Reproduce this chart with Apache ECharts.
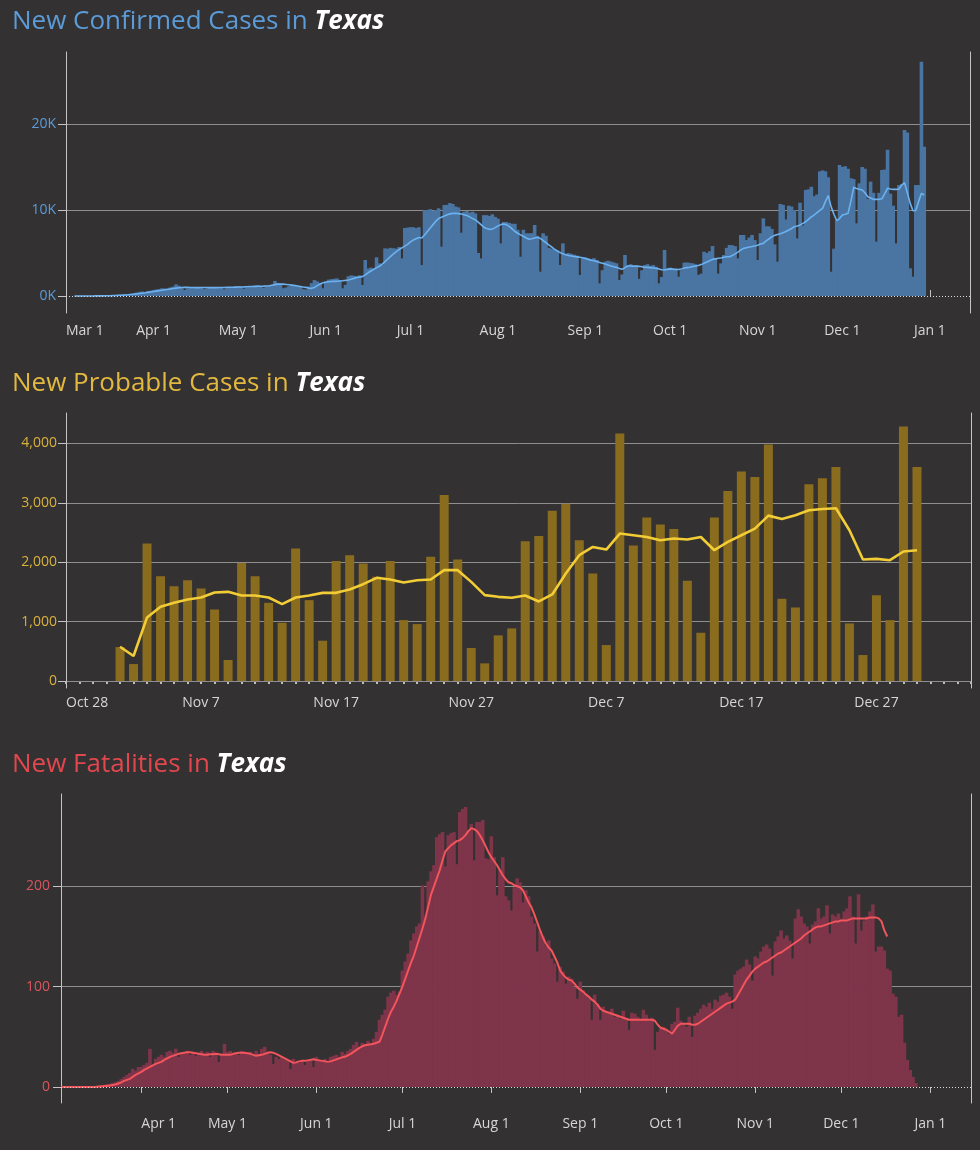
<!DOCTYPE html>
<html><head><meta charset="utf-8">
<script src="https://cdn.jsdelivr.net/npm/echarts@6/dist/echarts.min.js"></script>
<style>html,body{margin:0;padding:0;background:#333132;}#c{width:980px;height:1150px;}</style>
</head><body><div id="c"></div><script>
// ================= DATA =================
// New confirmed cases, daily from 2020-03-04
const confirmedStart = '2020-03-04';
const confirmedCases = [
  0,2,3,5,
  5,10,12,15,20,25,30,
  40,55,70,90,110,150,170,
  200,240,290,330,400,480,520,
  440,560,620,700,760,820,900,
  860,760,1000,1100,1350,1200,1050,
  700,880,950,1000,980,1050,1000,
  800,850,950,1000,950,1050,980,
  780,900,1050,1000,1080,1150,1100,
  850,1000,1100,1150,1200,1250,1150,
  950,1100,1250,1300,1750,1500,1300,
  900,1000,1150,1250,1300,1200,1150,
  800,750,1100,1500,1850,1700,1500,
  900,1700,1900,1950,2000,2050,1850,
  890,1300,2300,2400,2350,2300,2400,
  1280,4190,3200,3300,3200,4500,3800,
  3600,5540,5500,5600,5550,5500,5700,
  4380,7900,7950,8000,8000,7900,8000,
  3600,10000,10000,10100,9900,10000,10200,
  5740,10580,10600,10800,10700,10400,10300,
  7360,9800,9900,9700,9800,9600,5000,
  4380,9400,9400,9300,9500,9200,9000,
  6120,8600,8600,8500,8400,8400,7700,
  4570,7700,7290,7290,7300,8260,7000,
  2830,7290,7000,5600,5500,5400,5300,
  3600,6120,4900,5000,4900,4800,4700,
  2440,4400,4500,4400,4300,4400,4200,
  1470,3000,4000,4100,4000,3900,3800,
  1860,2500,4770,3600,3700,3500,3600,
  2000,3000,3600,3700,3500,3600,3400,
  1470,2200,5350,3200,3300,3200,3100,
  2250,3000,3880,3900,3850,3800,3700,
  2440,2600,5150,5000,5200,5810,4400,
  2600,3800,4770,5600,5930,5900,5800,
  4380,7090,7090,6510,6800,7090,6500,
  4190,7290,9030,8100,8100,7800,6000,
  3990,10700,10600,8900,10500,10400,10000,
  6700,10850,8200,12330,12400,12700,11600,
  11800,14500,14600,14500,13800,2830,5500,
  8800,15230,15000,15100,14800,13700,13600,
  8450,13100,15000,14800,11300,13300,12000,
  6320,12000,14650,14700,17000,11900,10500,
  6120,12900,13000,19300,19000,3220,2250,
  12900,12900,27250,17360
];
// 7-day average line of confirmed cases, daily from 2020-03-04
const confirmedAvg = [
  0,1,2,3,
  4,6,8,10,13,16,20,
  26,34,44,56,70,86,104,
  124,148,176,208,244,284,328,
  370,420,470,520,570,620,670,
  720,770,820,870,920,960,990,
  1000,1000,990,980,975,975,980,
  980,975,970,970,975,980,985,
  990,1000,1010,1020,1030,1040,1050,
  1060,1080,1100,1110,1120,1130,1140,
  1150,1170,1200,1260,1320,1380,1400,
  1380,1340,1300,1260,1220,1170,1110,
  1050,1000,920,890,1000,1200,1400,
  1550,1600,1650,1680,1700,1720,1750,
  1780,1820,1870,1950,2050,2150,2200,
  2250,2450,2700,2900,3100,3300,3450,
  3700,4000,4300,4600,4900,5150,5400,
  5600,5800,6000,6300,6500,6650,6800,
  6750,7100,7500,7900,8300,8700,9000,
  9150,9300,9450,9550,9610,9620,9580,
  9530,9450,9350,9200,9000,8850,8600,
  8300,8000,7850,7750,7800,7950,8150,
  8300,8370,8300,8100,7800,7500,7300,
  7100,6950,6750,6600,6650,6750,6820,
  6700,6450,6200,5950,5700,5450,5250,
  5050,4900,4800,4700,4650,4600,4550,
  4500,4450,4350,4250,4150,4100,4000,
  3900,3800,3720,3600,3500,3400,3330,
  3200,3100,3300,3490,3480,3470,3460,
  3450,3400,3350,3330,3300,3260,3220,
  3150,3050,3020,3100,3150,3120,3100,
  3080,3150,3250,3300,3350,3420,3490,
  3550,3650,3800,3950,4100,4260,4320,
  4380,4420,4500,4570,4570,4700,4900,
  5100,5350,5540,5620,5700,5750,5810,
  5900,6050,6120,6400,6650,6900,7050,
  7150,7250,7360,7500,7670,7850,8060,
  8150,8260,8450,8640,8900,9200,9420,
  9700,9950,10190,11000,11670,10390,9500,
  8760,9000,9420,9500,9610,11000,12640,
  12500,12400,12330,12000,11550,11400,11240,
  11240,11240,11300,11900,12520,12450,12400,
  12400,12420,12900,13180,12000,10800,9920,
  9950,11000,11940,11740
];

// New probable cases, daily from 2020-11-01
const probableStart = '2020-11-01';
const probableCases = [
  570,285,2314,1765,1597,1697,1557,1204,353,1988,
  1765,1316,980,2230,1361,678,2022,2118,1978,1753,
  2022,1025,958,2090,3131,2045,555,297,768,885,
  2353,2442,2868,2986,2370,1810,605,4168,2280,2751,
  2633,2560,1686,812,2751,3199,3529,3434,3983,1384,
  1238,3311,3412,3602,969,437,1445,1025,4286,3602
];
const probableAvg = [
  577,420,1070,1249,1316,1373,1406,1490,1501,1440,
  1440,1406,1294,1406,1440,1484,1484,1540,1630,1737,
  1709,1658,1697,1709,1866,1866,1669,1445,1417,1401,
  1440,1339,1457,1810,2118,2257,2213,2482,2454,2425,
  2370,2398,2381,2425,2202,2342,2454,2566,2784,2728,
  2790,2874,2896,2908,2538,2045,2056,2034,2180,2202
];

// New fatalities, daily from 2020-03-04
const fatalitiesStart = '2020-03-04';
const fatalities = [
  0,0,0,0,
  0,0,0,0,0,0,0,
  0,1,1,2,2,3,3,
  4,5,6,8,10,12,14,
  18,16,20,20,22,24,38,
  22,28,30,32,30,35,36,
  34,38,30,34,33,36,32,
  35,31,34,36,33,35,30,
  36,34,25,33,43,35,36,
  33,34,32,36,34,33,35,
  31,36,33,38,40,35,32,
  23,30,28,30,27,26,18,
  28,25,24,27,22,26,28,
  20,30,27,25,28,24,30,
  31,32,30,35,33,36,38,
  42,45,40,44,43,46,43,
  48,55,67,72,77,90,94,
  96,92,95,116,125,133,146,
  153,160,163,201,170,205,215,
  221,249,252,254,220,251,253,
  254,222,274,277,279,256,262,
  226,264,264,266,228,227,250,
  229,191,216,229,190,186,176,
  199,208,204,184,196,190,170,
  163,135,156,150,141,146,128,
  123,105,120,115,103,110,108,
  100,88,105,96,93,90,67,
  92,83,67,80,75,73,78,
  70,72,68,76,67,57,74,
  73,70,68,77,72,66,69,
  37,55,58,60,56,53,63,
  65,79,66,63,60,70,50,
  71,74,78,82,80,84,78,
  87,85,91,92,94,90,78,
  112,116,118,120,127,122,106,
  130,128,135,140,142,138,111,
  145,150,156,148,151,146,128,
  168,177,170,163,160,143,162,
  165,178,168,170,181,153,172,
  170,173,168,175,178,190,170,
  143,192,156,166,170,175,182,
  135,140,140,136,118,116,93,
  90,70,72,44,27,17,10,
  4
];
const fatalitiesAvg = [
  0,0,0,0,
  0,0,0,0,0,0,0,
  0,0,0.5,0.5,1,1,1.5,
  2,2.5,3.5,4.5,6,7,8,
  10,12,13.5,15,17,18.5,20,
  21.5,23,24,25,27,28.5,30,
  31,32,33,33.5,34,34.5,34.5,
  34,33.5,33,32.5,32,32,32.5,
  32.5,33,32.5,32,32,32,32,
  33,33.5,34,34,34,33.5,33,
  32,31,31.5,32,33,34,34.5,
  34,33,31.5,30,28.5,27,25.5,
  24,24.5,25.5,26,26,26.5,27,
  27.5,27,26.5,26,25.5,25,25.5,
  26.5,27.5,28.5,29.5,30,31.5,33,
  35,37,39,40.5,41.5,42,42.5,
  43,44,45,52,60,68,75,
  80,86,93,100,108,116,124,
  131,140,149,158,168,180,192,
  200,208,216,226,235,238,241,
  243,245,246,248,251,255,258,
  257,255,251,246,240,234,229,
  225,221,216,211,207,204,203,
  201,200,199,196,190,184,179,
  172,164,156,149,143,139,136,
  130,124,116,112,109,107,106,
  103,99,97,95,92,90,87,
  85,82,78,76,75,74,73,
  72,71,70,69,68,67,67,
  67,67,67,67,67,67,67,
  66,62,59,58,57,55,53,
  57,61,63,63,63,63,62,
  62,63,65,67,69,71,73,
  75,77,79,81,83,84,85,
  87,92,97,102,107,111,115,
  118,120,122,124,125,127,129,
  131,133,134,136,138,140,142,
  144,146,148,151,153,155,157,
  159,160,160,161,162,163,164,
  165,165,166,166,166,167,168,
  168,168,168,168,168,169,169,
  169,168,165,156,150
];

// Tick labels
const monthTicks = ['2020-03-01','2020-04-01','2020-05-01','2020-06-01','2020-07-01','2020-08-01',
  '2020-09-01','2020-10-01','2020-11-01','2020-12-01','2021-01-01'];
const probableTicks = ['2020-10-28','2020-11-07','2020-11-17','2020-11-27','2020-12-07','2020-12-17','2020-12-27'];
const confirmedYTicks = [0, 10000, 20000];
const probableYTicks = [0, 1000, 2000, 3000, 4000];
const fatalityYTicks = [0, 100, 200];

// ================= HELPERS =================
const DAY = 864e5;
const BASE = Date.UTC(2020, 2, 1);
const MON = ['Jan','Feb','Mar','Apr','May','Jun','Jul','Aug','Sep','Oct','Nov','Dec'];
function parts(s){ return s.split('-').map(Number); }
function dayNum(s){ const p = parts(s); return Math.round((Date.UTC(p[0], p[1]-1, p[2]) - BASE) / DAY); }
function dayLabel(s){ const p = parts(s); return MON[p[1]-1] + ' ' + p[2]; }
function toSeries(start, arr){ const s = dayNum(start); return arr.map((v, i) => [s + i, v]); }
const labelMap = {};
monthTicks.concat(probableTicks).forEach(s => { labelMap[dayNum(s)] = dayLabel(s); });
const monthDays = monthTicks.map(dayNum);
const probDays = probableTicks.map(dayNum);

const BG = '#333132';
const GRID = '#8e8e8e';
const AXIS = '#c4c4c4';
const XLAB = '#d6d6d6';
const FONT = 'Open Sans';

function xAxisBase(grid, min, max, labelVals, tickVals, tickInside, tickLen, margin) {
  return {
    type: 'value', gridIndex: grid, min: min, max: max, position: 'bottom',
    axisLine: { show: false },
    axisTick: { show: true, customValues: tickVals, inside: tickInside, length: tickLen,
      lineStyle: { color: AXIS, width: 1 } },
    axisLabel: { show: true, customValues: labelVals, margin: margin, color: XLAB,
      fontFamily: FONT, fontSize: 14, alignMinLabel: 'left',
      formatter: v => labelMap[Math.round(v)] || '' },
    splitLine: { show: false }
  };
}
function yAxisBase(grid, min, max, vals, color, fmt, splitColors, margin) {
  return {
    type: 'value', gridIndex: grid, min: min, max: max, position: 'left',
    axisLine: { show: true, lineStyle: { color: AXIS, width: 1 } },
    axisTick: { show: true, customValues: vals, length: 8, lineStyle: { color: AXIS } },
    axisLabel: { show: true, customValues: vals, color: color, fontFamily: FONT, fontSize: 14,
      margin: margin, formatter: fmt },
    splitLine: { show: true, lineStyle: { color: splitColors, width: 1 } }
  };
}
function rightAxis(grid) {
  return { type: 'value', gridIndex: grid, position: 'right',
    axisLine: { show: true, lineStyle: { color: AXIS, width: 1 } },
    axisTick: { show: false }, axisLabel: { show: false }, splitLine: { show: false } };
}
const baseline = {
  silent: true, symbol: 'none', label: { show: false },
  lineStyle: { type: [1, 2], color: '#d8d8d8', width: 1 },
  data: [{ yAxis: 0 }]
};
function titleItem(top, lead, color) {
  return {
    left: 7, top: top,
    text: '{a|' + lead + '}{b|Texas}',
    textStyle: {
      fontWeight: 'normal',
      rich: {
        a: { fontFamily: FONT, fontSize: 26, color: color, fontWeight: 'normal' },
        b: { fontFamily: FONT, fontSize: 26, color: '#ffffff', fontWeight: 'bold', fontStyle: 'italic' }
      }
    }
  };
}

const chart = echarts.init(document.getElementById('c'), null, { renderer: 'canvas' });
chart.setOption({
  backgroundColor: BG,
  animation: false,
  title: [
    titleItem(4, 'New Confirmed Cases in ', '#5b9bd8'),
    titleItem(366, 'New Probable Cases in ', '#e3b83e'),
    titleItem(747, 'New Fatalities in ', '#e2474e')
  ],
  grid: [
    { left: 66, top: 52, width: 904, height: 261 },
    { left: 66, top: 413, width: 905, height: 275 },
    { left: 61, top: 794, width: 910, height: 309 }
  ],
  xAxis: [
    xAxisBase(0, 0, 320.2, monthDays, monthDays.slice(1), true, 6, 11),
    xAxisBase(1, probDays[0], probDays[0] + 67, probDays, probDays.slice(1), true, 7, 8),
    { type: 'value', gridIndex: 1, min: probDays[0], max: probDays[0] + 67, interval: 1, offset: -6,
      position: 'bottom', axisLine: { show: false },
      axisTick: { show: true, length: 2, lineStyle: { color: '#bdbdbd', width: 2 } },
      axisLabel: { show: false }, splitLine: { show: false } },
    xAxisBase(2, 3, 320.2, monthDays.slice(1), monthDays.slice(1), false, 6, 14)
  ],
  yAxis: [
    yAxisBase(0, -1977, 28372, confirmedYTicks, '#5b9bd8', v => (v / 1000) + 'K',
      ['rgba(0,0,0,0)', GRID, GRID], 10),
    rightAxis(0),
    yAxisBase(1, -118, 4512, probableYTicks, '#d9b23c', v => v.toLocaleString('en-US'),
      [GRID], 9),
    rightAxis(1),
    yAxisBase(2, -16, 292, fatalityYTicks, '#d9545c', v => String(v),
      ['rgba(0,0,0,0)', GRID, GRID], 11),
    rightAxis(2)
  ],
  series: [
    { type: 'bar', name: 'Confirmed', xAxisIndex: 0, yAxisIndex: 0, barWidth: 3.6,
      data: toSeries(confirmedStart, confirmedCases),
      itemStyle: { color: '#4a75a3' }, markLine: baseline, z: 2 },
    { type: 'line', name: 'Confirmed avg', xAxisIndex: 0, yAxisIndex: 0, showSymbol: false,
      data: toSeries(confirmedStart, confirmedAvg),
      lineStyle: { color: '#6db2f0', width: 1.6 }, z: 3 },
    { type: 'bar', name: 'Probable', xAxisIndex: 1, yAxisIndex: 2, barWidth: 9,
      data: toSeries(probableStart, probableCases),
      itemStyle: { color: '#8a6c1f' }, z: 2 },
    { type: 'line', name: 'Probable avg', xAxisIndex: 1, yAxisIndex: 2, showSymbol: false,
      data: toSeries(probableStart, probableAvg),
      lineStyle: { color: '#f3cd35', width: 2.6 }, z: 3 },
    { type: 'bar', name: 'Fatalities', xAxisIndex: 3, yAxisIndex: 4, barWidth: 3.6,
      data: toSeries(fatalitiesStart, fatalities),
      itemStyle: { color: '#7e3449' }, markLine: baseline, z: 2 },
    { type: 'line', name: 'Fatalities avg', xAxisIndex: 3, yAxisIndex: 4, showSymbol: false,
      data: toSeries(fatalitiesStart, fatalitiesAvg),
      lineStyle: { color: '#f4545c', width: 2 }, z: 3 }
  ]
});
</script></body></html>
